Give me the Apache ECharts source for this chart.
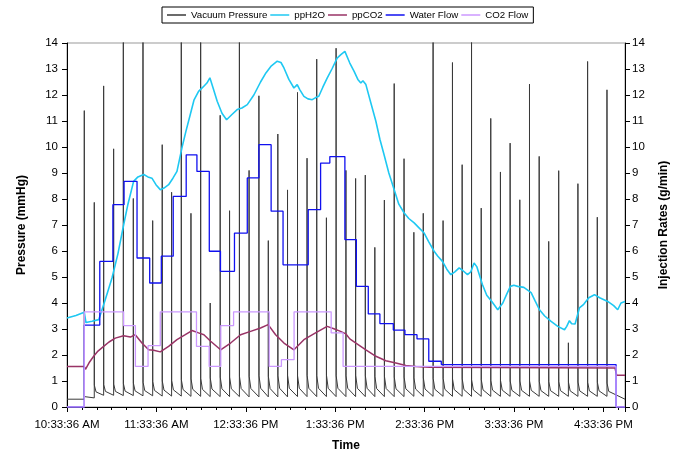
<!DOCTYPE html>
<html><head><meta charset="utf-8">
<script src="https://cdn.jsdelivr.net/npm/echarts@6/dist/echarts.min.js"></script>
<style>html,body{margin:0;padding:0;background:#fff}#c{width:678px;height:453px}</style>
</head><body><div id="c"></div>
<script>
// time axis: minutes after 10:33:36 AM
const xMax = 374.5;
const xTickLabels = ['10:33:36 AM','11:33:36 AM','12:33:36 PM','1:33:36 PM','2:33:36 PM','3:33:36 PM','4:33:36 PM'];
const seriesNames = ['Vacuum Pressure','ppH2O','ppCO2','Water Flow','CO2 Flow'];

// Vacuum Pressure: spike times (min), spike peaks, value just after, ~1 min later, before next spike
const vacStart = 0.3;
const spikeTimes = [11.6,18.3,24.6,31.3,37.8,44.5,51.0,57.5,63.9,70.2,76.7,83.2,89.7,96.1,102.8,109.1,115.7,122.2,128.8,135.1,141.5,148.0,154.7,161.1,167.6,174.1,180.6,187.2,193.7,200.2,206.6,213.0,219.6,226.2,232.8,239.1,245.7,252.4,258.7,265.2,271.5,278.0,284.4,290.9,297.4,303.9,310.4,316.9,323.3,330.0,336.5,342.9,349.4,355.9,362.4];
const spikePeaks = [11.4,7.87,12.35,9.93,15.5,8.02,15.5,7.17,10.09,8.26,15.5,7.45,15.5,4.0,11.22,7.55,15.5,9.1,11.97,6.4,10.5,8.35,12.1,9.57,13.38,7.28,13.8,9.1,8.79,8.92,6.14,7.96,12.44,9.55,6.72,7.45,15.5,7.17,13.25,9.32,15.5,7.65,11.1,9.04,10.15,7.97,12.42,9.64,6.37,9.09,2.47,8.59,13.29,7.3,12.2];
const vacPost = [0.40,0.84,0.86,0.88,0.90,0.92,0.95,0.98,1.00,1.02,1.05,1.08,1.10,1.12,1.15,1.15,1.18,1.18,1.20,1.18,1.20,1.22,1.20,1.22,1.20,1.22,1.20,1.20,1.22,1.20,1.18,1.18,1.15,1.15,1.12,1.12,1.10,1.10,1.08,1.08,1.05,1.05,1.02,1.02,1.00,1.00,1.00,0.98,0.98,0.98,0.96,0.96,0.95,0.95,0.92];
const vacMid = [0.37,0.58,0.60,0.60,0.61,0.62,0.63,0.64,0.65,0.66,0.67,0.68,0.68,0.69,0.70,0.70,0.71,0.71,0.72,0.71,0.72,0.72,0.72,0.72,0.72,0.72,0.72,0.72,0.72,0.72,0.71,0.71,0.70,0.70,0.69,0.69,0.68,0.68,0.67,0.67,0.66,0.66,0.65,0.65,0.64,0.64,0.64,0.63,0.63,0.63,0.62,0.62,0.62,0.62,0.60];
const vacLow = [0.35,0.45,0.45,0.44,0.44,0.43,0.43,0.42,0.42,0.42,0.41,0.41,0.40,0.40,0.40,0.40,0.39,0.39,0.39,0.39,0.39,0.40,0.40,0.40,0.40,0.40,0.40,0.40,0.40,0.40,0.40,0.40,0.40,0.41,0.41,0.41,0.41,0.41,0.41,0.41,0.41,0.41,0.41,0.41,0.41,0.41,0.41,0.41,0.41,0.41,0.41,0.41,0.41,0.41,0.30];

// ppH2O trace
const h2oT = [0,6.0,11.6,12.7,16.8,21.3,25.5,30.2,34.2,38.0,40.9,44.7,47.6,51.5,54.3,57.0,59.7,62.6,65.1,68.2,71.1,73.8,77.1,79.8,82.7,85.2,88.3,91.2,93.9,95.9,97.9,100.8,104.0,107.1,110.7,114.2,117.4,121.0,125.4,129.9,133.5,136.8,141.1,143.6,145.6,148.9,152.3,154.5,156.3,159.0,161.7,164.6,166.9,169.0,171.7,174.6,177.8,181.3,183.8,186.5,189.8,192.7,195.2,197.2,198.6,200.6,203.9,207.3,210.0,212.8,216.0,219.6,222.7,226.3,229.4,233.0,236.1,239.7,242.8,246.4,248.9,252.0,254.9,257.6,260.3,263.2,265.6,268.8,271.0,273.2,275.0,278.8,281.7,285.1,289.1,292.5,295.2,297.6,299.9,302.5,306.6,311.5,314.0,317.1,320.6,324.9,329.4,333.9,335.4,337.2,338.7,341.0,343.9,346.8,350.2,354.0,357.5,362.9,366.9,369.6,371.8,374.5];
const h2oV = [3.42,3.52,3.64,3.25,3.30,3.36,4.10,4.96,5.90,7.00,7.80,8.68,8.85,8.94,8.85,8.80,8.55,8.36,8.42,8.55,8.80,9.06,9.96,10.60,11.24,11.80,12.14,12.30,12.46,12.66,12.30,11.76,11.30,11.05,11.25,11.44,11.50,11.63,12.00,12.50,12.85,13.10,13.30,13.25,13.04,12.60,12.27,12.40,12.20,11.95,11.85,11.82,11.90,11.95,12.30,12.65,13.00,13.42,13.55,13.68,13.23,12.91,12.60,12.46,12.55,12.40,11.70,10.99,10.30,9.70,9.00,8.36,7.80,7.46,7.25,7.08,6.90,6.69,6.35,5.99,5.80,5.60,5.30,5.09,5.20,5.35,5.25,5.09,5.20,5.54,5.40,4.71,4.30,4.06,3.74,4.00,4.35,4.64,4.68,4.64,4.60,4.40,4.10,3.74,3.50,3.29,3.10,2.97,3.10,3.32,3.20,3.19,3.81,3.95,4.20,4.32,4.20,4.06,3.90,3.74,4.00,4.06];

// ppCO2 trace
const co2pT = [0,11.6,12.4,14.8,17.9,20.8,24.6,28.2,32.4,38.0,42.5,45.8,50.3,54.8,58.2,62.6,68.2,73.8,79.4,83.9,88.3,91.9,96.4,103.1,109.8,116.5,123.2,129.9,135.0,140.0,145.6,152.3,159.0,166.8,174.6,179.1,183.6,187.2,189.8,193.9,200.6,207.3,214.0,220.7,227.4,234.1,243.5,367.8,368.9,374.5];
const co2pV = [1.56,1.56,1.45,1.70,1.95,2.15,2.33,2.50,2.65,2.74,2.69,2.78,2.46,2.20,2.18,2.12,2.33,2.59,2.78,2.94,2.85,2.78,2.53,2.20,2.46,2.78,2.91,3.04,3.17,2.78,2.46,2.20,2.59,2.85,3.10,3.01,2.91,2.81,2.62,2.46,2.20,1.95,1.78,1.69,1.60,1.56,1.53,1.50,1.22,1.22];

// Water Flow steps (value holds from time until next time)
const waterT = [0,11.6,22.0,30.8,38.3,47.0,55.5,63.3,71.3,80.0,87.2,95.5,103.0,112.4,121.0,128.8,137.0,145.0,161.9,170.2,176.4,186.5,194.2,202.2,210.0,219.0,226.8,234.9,242.8,251.2,368.5,374.5];
const waterV = [0,3.15,5.60,7.78,8.68,5.73,4.77,5.80,8.10,9.70,9.06,5.99,5.22,6.69,8.81,10.09,7.53,5.47,7.59,9.38,9.63,6.44,4.64,3.58,3.21,2.96,2.78,2.62,1.76,1.63,0,0];

// CO2 Flow steps
const co2fT = [0,11.6,38.0,45.9,54.4,62.6,86.9,95.4,103.2,111.8,135.7,143.9,152.4,177.3,185.3,368.5,374.5];
const co2fV = [0,3.66,3.13,1.56,2.36,3.66,2.33,1.56,3.13,3.66,1.56,1.82,3.66,2.85,1.56,0,0];

const zip = (t, v) => t.map((x, i) => [x, v[i]]);
const vac = [[0, vacStart], [spikeTimes[0], vacStart]];
spikeTimes.forEach((t, i) => {
  if (i > 0) vac.push([t, vacLow[i - 1]]);
  vac.push([t, spikePeaks[i]]);
  vac.push([t + 0.05, vacPost[i]]);
  vac.push([t + 1.2, vacMid[i]]);
  const next = i < spikeTimes.length - 1 ? spikeTimes[i + 1] : xMax;
  vac.push([next, vacLow[i]]);
});

const FONT = 'Liberation Sans, Arial, sans-serif';
const chart = echarts.init(document.getElementById('c'), null, {renderer: 'canvas'});
const yAxisBase = {
  type: 'value', min: 0, max: 14, interval: 1,
  axisLine: {show: true, lineStyle: {color: '#000', width: 1}},
  axisTick: {show: true, length: 5, lineStyle: {color: '#000'}},
  splitLine: {show: false},
  axisLabel: {color: '#000', fontSize: 11.5, fontFamily: FONT},
  nameLocation: 'middle', nameRotate: 90,
  nameTextStyle: {fontWeight: 'bold', fontSize: 12, color: '#000', fontFamily: FONT}
};
chart.setOption({
  animation: false,
  textStyle: {fontFamily: FONT},
  legend: {
    top: 7, left: 162,
    data: seriesNames,
    icon: 'rect',
    borderColor: '#000', borderWidth: 1, padding: [3, 5],
    itemWidth: 19, itemHeight: 1.5, itemGap: 3,
    textStyle: {fontSize: 9.7, color: '#000', fontFamily: FONT}
  },
  grid: {left: 67, right: 53, top: 43, bottom: 46, containLabel: false, outerBoundsMode: 'none',
    show: true, borderColor: '#999', borderWidth: 1},
  xAxis: {
    type: 'value', min: 0, max: xMax, interval: 60,
    axisLine: {lineStyle: {color: '#000'}},
    axisTick: {length: 5, lineStyle: {color: '#000'}},
    minorTick: {show: true, splitNumber: 6, length: 3, lineStyle: {color: '#000'}},
    splitLine: {show: false},
    axisLabel: {
      color: '#000', fontSize: 11.5, margin: 12, fontFamily: FONT, showMaxLabel: false,
      formatter: v => (Math.abs(v % 60) < 1e-6 ? xTickLabels[Math.round(v / 60)] : '')
    },
    name: 'Time', nameLocation: 'middle', nameGap: 33,
    nameTextStyle: {fontWeight: 'bold', fontSize: 12, color: '#000', fontFamily: FONT}
  },
  yAxis: [
    Object.assign({}, yAxisBase, {position: 'left', name: 'Pressure (mmHg)', nameGap: 39,
      axisLabel: Object.assign({}, yAxisBase.axisLabel, {margin: 9})}),
    Object.assign({}, yAxisBase, {position: 'right', name: 'Injection Rates (g/min)', nameGap: 33,
      axisLabel: Object.assign({}, yAxisBase.axisLabel, {margin: 7})})
  ],
  series: [
    {name: seriesNames[0], type: 'line', data: vac, symbol: 'none', clip: true,
     lineStyle: {color: '#3a3a3a', width: 1}, itemStyle: {color: '#3a3a3a'}},
    {name: seriesNames[1], type: 'line', data: zip(h2oT, h2oV), symbol: 'none', clip: true,
     lineStyle: {color: '#1ec8f2', width: 1.6}, itemStyle: {color: '#1ec8f2'}},
    {name: seriesNames[2], type: 'line', data: zip(co2pT, co2pV), symbol: 'none', clip: true,
     lineStyle: {color: '#993366', width: 1.5}, itemStyle: {color: '#993366'}},
    {name: seriesNames[3], type: 'line', yAxisIndex: 1, data: zip(waterT, waterV), step: 'end', symbol: 'none', clip: true,
     lineStyle: {color: '#1010f0', width: 1.3}, itemStyle: {color: '#1010f0'}},
    {name: seriesNames[4], type: 'line', yAxisIndex: 1, data: zip(co2fT, co2fV), step: 'end', symbol: 'none', clip: true,
     lineStyle: {color: '#cc99ff', width: 1.3}, itemStyle: {color: '#cc99ff'}}
  ]
});
</script></body></html>
